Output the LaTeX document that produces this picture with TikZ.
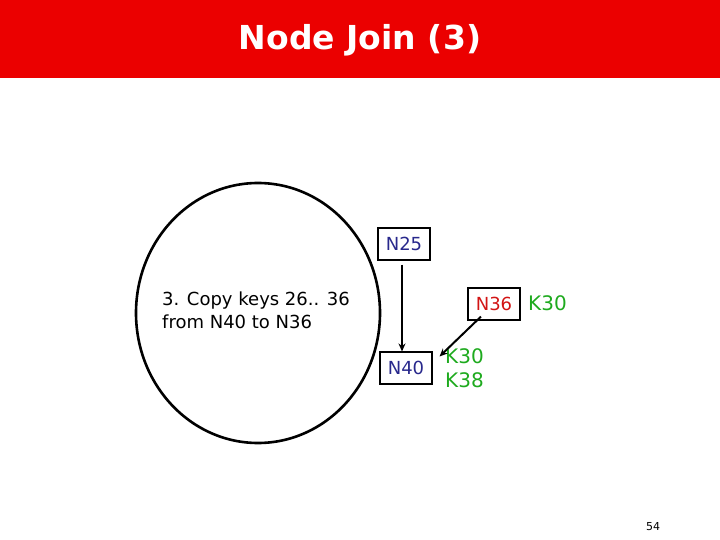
\documentclass[tikz,border=0pt]{standalone}
\usepackage{fontspec}
\setmainfont{DejaVu Sans}
\newfontfamily\titlefont{DejaVu Sans}
\definecolor{nblue}{RGB}{40,40,140}
\definecolor{nred}{RGB}{210,20,20}
\definecolor{kgreen}{RGB}{30,170,30}
\definecolor{barred}{RGB}{235,0,0}
\begin{document}
\begin{tikzpicture}[x=1pt,y=-1pt,
  nbox/.style={draw,line width=1.1pt,minimum width=52pt,minimum height=32pt,inner sep=0pt,font=\fontsize{18}{22}\selectfont},
  ktext/.style={text=kgreen,font=\fontsize{20}{24}\selectfont,inner sep=0pt},
  arr/.style={-{Stealth[length=8pt,width=7pt]},line width=2pt}]
\usetikzlibrary{arrows.meta}
\useasboundingbox (0,0) rectangle (720,540);
\fill[barred] (0,0) rectangle (720,78);
\node[text=white,font=\titlefont\bfseries\fontsize{33}{38}\selectfont] (title) at (360,40) {Node Join (3)};
\draw[line width=2.6pt] (258,313) ellipse [x radius=122, y radius=130];
\node[align=left,anchor=west,font=\fontsize{18}{23}\selectfont,inner sep=0pt] (note) at (162,310) {3. Copy keys 26.. 36\\from N40 to N36};
\node[nbox,text=nblue] (n25) at (404,244) {N25};
\node[nbox,text=nred] (n36) at (494,304) {N36};
\node[nbox,text=nblue] (n40) at (406,368) {N40};
\node[ktext,anchor=west] (k30a) at (528,303) {K30};
\node[ktext,anchor=west,align=left] (k3038) at (445,368) {K30\\K38};
\draw[arr] (n25.south) ++(-2,4) coordinate (a1) (a1) -- (n40.north -| a1) ;
\draw[arr] ([xshift=-13pt,yshift=4pt]n36.south) -- ([xshift=7pt,yshift=-5pt]n40.north east);
\node[font=\fontsize{11}{13}\selectfont] (pg) at (653,527) {54};
\end{tikzpicture}
\end{document}
